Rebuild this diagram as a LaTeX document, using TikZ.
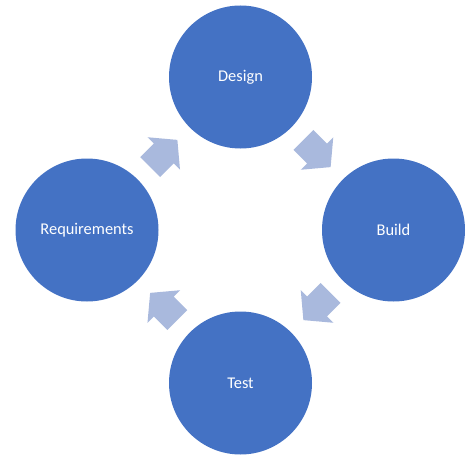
\documentclass[tikz,border=0pt]{standalone}
\usepackage{fontspec}
\setmainfont{Carlito}
\usetikzlibrary{calc}
\definecolor{stageblue}{HTML}{4472C4}
\definecolor{arrowblue}{HTML}{A9B9DD}
\tikzset{
  stage/.style={circle,fill=stageblue,draw=none,minimum size=143pt,inner sep=0pt,
    text=white,font=\fontsize{16.4}{20}\selectfont},
  pics/cyclearrow/.style={code={
    \fill[arrowblue] (-19.25,-14) -- (0,-14) -- (0,-23) -- (19.25,0)
      -- (0,23) -- (0,14) -- (-19.25,14) -- cycle;}}
}
\begin{document}
\begin{tikzpicture}[x=1pt,y=1pt]
  \useasboundingbox (0,0) rectangle (474,467);
  \node[stage] (design) at (240.5,390) {Design};
  \node[stage] (build) at (393.5,237) {Build};
  \node[stage] (test) at (240.5,84) {Test};
  \node[stage] (req) at (87,237) {Requirements};
  % arrows between the stages
  \pic[rotate=-45] at ($(design)!0.5!(build)$) {cyclearrow};
  \pic[rotate=-135] at ($(build)!0.5!(test)$) {cyclearrow};
  \pic[rotate=135] at ($(test)!0.5!(req)$) {cyclearrow};
  \pic[rotate=45] at ($(req)!0.5!(design)$) {cyclearrow};
\end{tikzpicture}
\end{document}
